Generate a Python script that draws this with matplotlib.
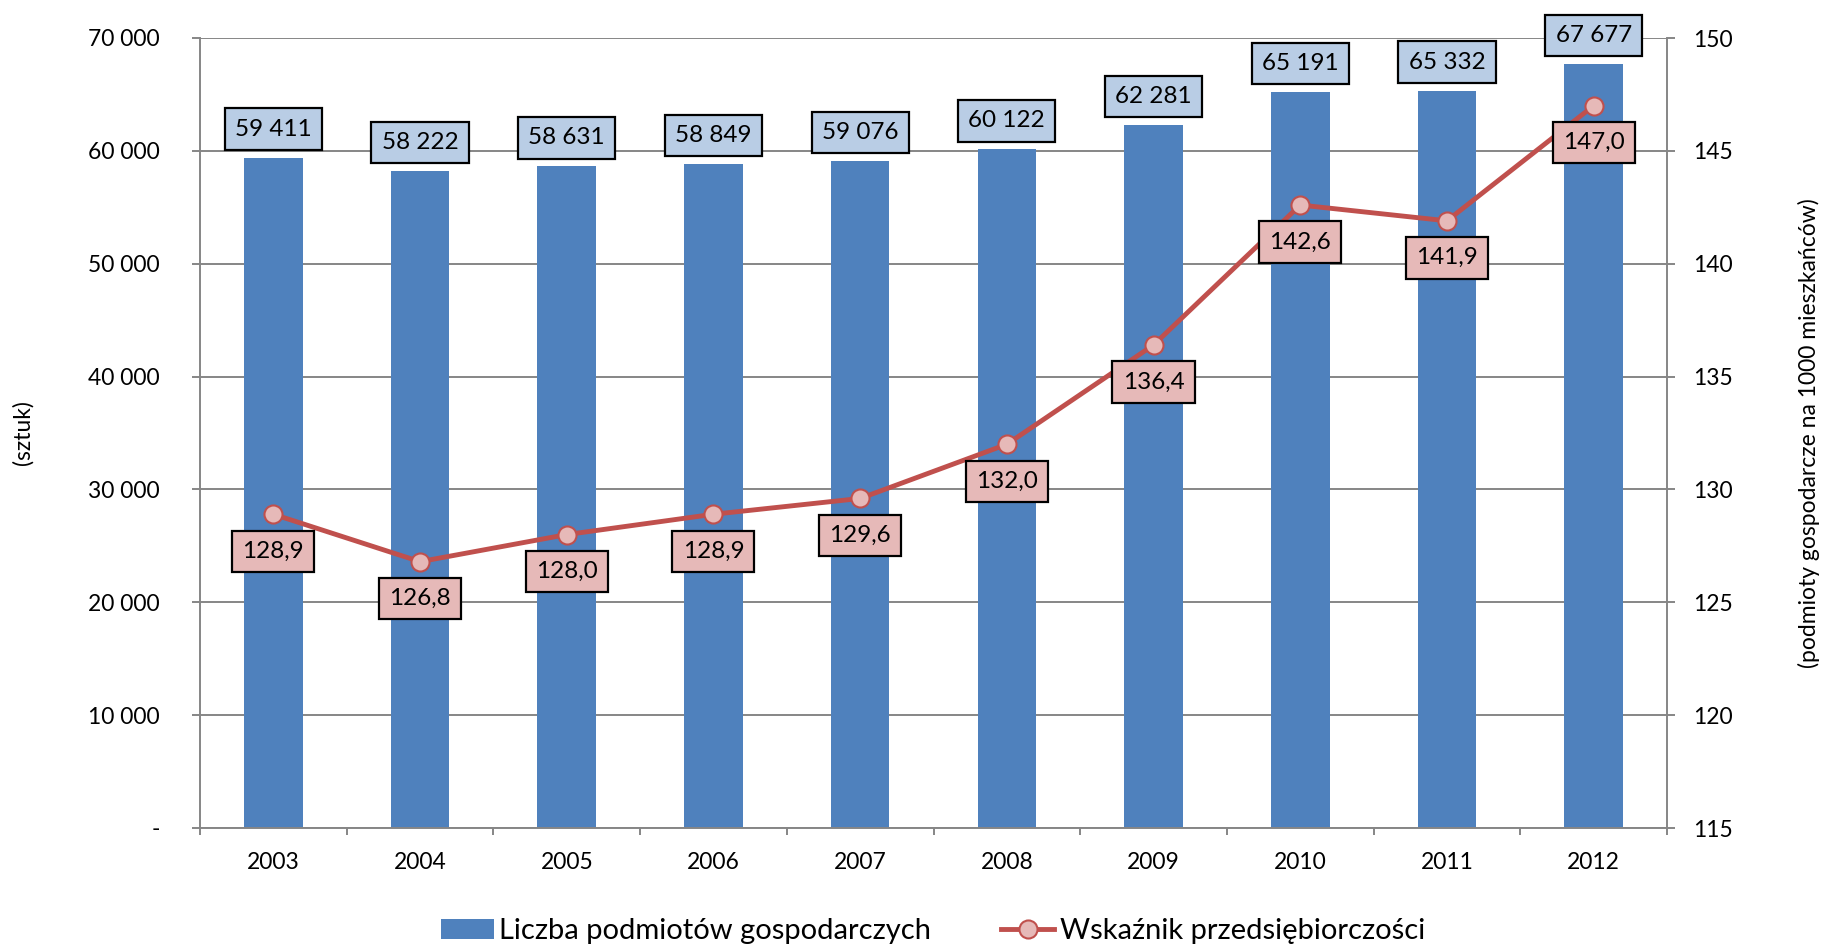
import numpy as np
import matplotlib
matplotlib.use("Agg")
import matplotlib.pyplot as plt
from matplotlib.ticker import FuncFormatter, MultipleLocator

plt.rcParams["font.family"] = ["Lato", "DejaVu Sans"]

years = ["2003", "2004", "2005", "2006", "2007", "2008", "2009", "2010", "2011", "2012"]
entities = [59411, 58222, 58631, 58849, 59076, 60122, 62281, 65191, 65332, 67677]
entrepreneurship = [128.9, 126.8, 128.0, 128.9, 129.6, 132.0, 136.4, 142.6, 141.9, 147.0]

BAR_COLOR = "#4F81BD"
BAR_LABEL_BG = "#B9CDE5"
LINE_COLOR = "#C0504D"
MARKER_FACE = "#E6B9B8"
GRID_COLOR = "#868686"
TICK_FS = 16.5


def thousands(v, _pos=None):
    if v == 0:
        return "-"
    return f"{int(round(v)):,}".replace(",", " ")


fig = plt.figure(figsize=(18.24, 9.48), dpi=100)
ax1 = fig.add_axes([200 / 1824, 1 - 828 / 948, 1467 / 1824, 790 / 948])
ax2 = ax1.twinx()

x = np.arange(len(years))
bars = ax1.bar(x, entities, width=0.4, color=BAR_COLOR, zorder=2, label="Liczba podmiotów gospodarczych")
ax1.set_xlim(-0.5, len(years) - 0.5)
ax1.set_ylim(0, 70000)
ax1.yaxis.set_major_locator(MultipleLocator(10000))
ax1.yaxis.set_major_formatter(FuncFormatter(thousands))
ax1.set_axisbelow(True)
ax1.grid(axis="y", color=GRID_COLOR, linewidth=1.4, zorder=0)

ax1.set_xticks(x)
ax1.set_xticklabels(years)
ax1.set_xticks(np.arange(-0.5, len(years), 1), minor=True)
ax1.tick_params(axis="x", which="major", length=0, pad=17, labelsize=TICK_FS)
ax1.tick_params(axis="x", which="minor", length=5, width=1.4, color=GRID_COLOR)
ax1.tick_params(axis="y", length=5.8, width=1.4, color=GRID_COLOR, pad=23, labelsize=TICK_FS)

for side in ["top", "right"]:
    ax1.spines[side].set_visible(False)
for side in ["left", "bottom"]:
    ax1.spines[side].set_color(GRID_COLOR)
    ax1.spines[side].set_linewidth(1.4)

line, = ax2.plot(x, entrepreneurship, color=LINE_COLOR, linewidth=3.5, marker="o",
                 markersize=13, markerfacecolor=MARKER_FACE, markeredgecolor=LINE_COLOR,
                 markeredgewidth=1.5, zorder=3, label="Wskaźnik przedsiębiorczości")
ax2.set_ylim(115, 150)
ax2.yaxis.set_major_locator(MultipleLocator(5))
ax2.tick_params(axis="y", length=5.8, width=1.4, color=GRID_COLOR, pad=13, labelsize=TICK_FS)
for side in ["top", "left", "bottom"]:
    ax2.spines[side].set_visible(False)
ax2.spines["right"].set_color(GRID_COLOR)
ax2.spines["right"].set_linewidth(1.4)

# data labels
for xi, v in zip(x, entities):
    ax1.annotate(thousands(v), (xi, v), xytext=(0, 18), textcoords="offset pixels",
                 ha="center", va="bottom", fontsize=TICK_FS + 1, zorder=5,
                 bbox=dict(boxstyle="square,pad=0.42", facecolor=BAR_LABEL_BG,
                           edgecolor="black", linewidth=1.6))

for xi, v in zip(x, entrepreneurship):
    ax2.annotate(f"{v:.1f}".replace(".", ","), (xi, v), xytext=(0, -37), textcoords="offset pixels",
                 ha="center", va="center", fontsize=TICK_FS + 1, zorder=5,
                 bbox=dict(boxstyle="square,pad=0.42", facecolor=MARKER_FACE,
                           edgecolor="black", linewidth=1.6))

fig.text(23 / 1824, 1 - 433 / 948, "(sztuk)", rotation=90, ha="center", va="center", fontsize=TICK_FS)
fig.text(1809 / 1824, 1 - 433 / 948, "(podmioty gospodarcze na 1000 mieszkańców)", rotation=90,
         ha="center", va="center", fontsize=TICK_FS)

fig.legend(handles=[bars, line], loc="center", bbox_to_anchor=(933 / 1824, 1 - 931 / 948),
           ncol=2, frameon=False, fontsize=21, handlelength=1.8, handletextpad=0.2,
           columnspacing=2.4)

fig.savefig("out.png", dpi=100)
